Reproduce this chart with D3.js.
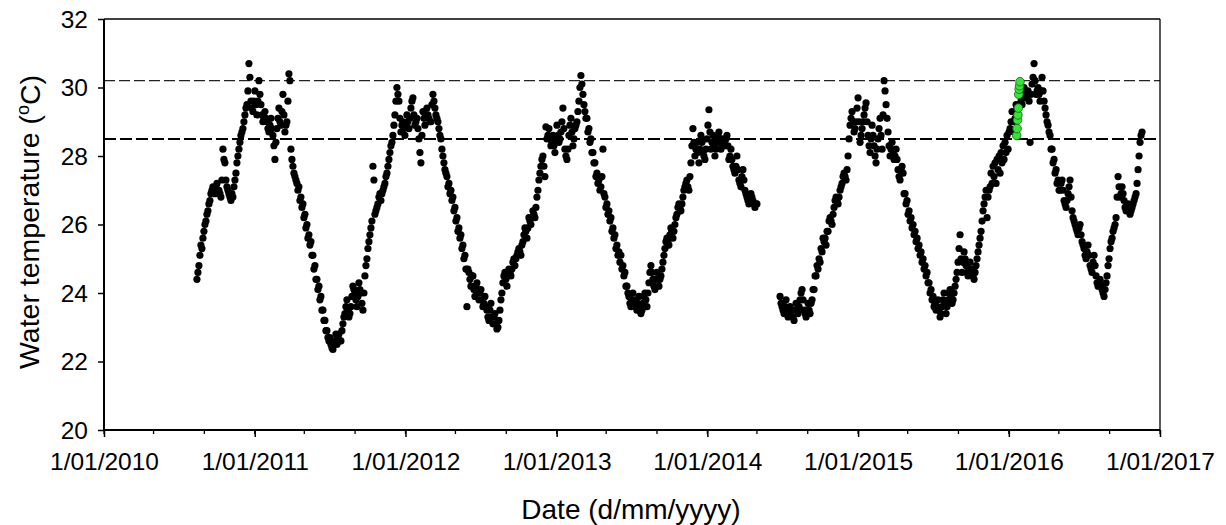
<!DOCTYPE html>
<html><head><meta charset="utf-8">
<script src="https://cdn.jsdelivr.net/npm/d3@7"></script>
<style>
body{margin:0;background:#fff}
text{font-family:Arial,"Liberation Sans",sans-serif;fill:#000}
</style>
</head><body>
<svg id="chart" width="1226" height="525"></svg>
<script>
// ---------- data ----------
const xDomainDates = ["2010-01-01", "2017-01-01"];
const yDomain = [20, 32];
const yTickValues = [20, 22, 24, 26, 28, 30, 32];
const thresholdUpper = 30.2;
const thresholdLower = 28.5;
const sampleStepDays = 2.4214;   // logger readings

const seg1Start = "2010-08-14";
const seg1Values = [
24.4,24.6,24.8,25.1,25.4,25.3,25.6,25.8,26.0,26.1,
26.3,26.4,26.6,26.7,26.9,27.0,27.1,27.0,26.9,27.1,
27.2,27.0,27.0,26.9,26.8,27.3,28.2,27.9,27.8,27.3,
27.1,27.0,26.9,26.8,26.7,26.9,26.8,27.1,27.3,27.5,
27.8,28.0,28.2,28.4,28.6,28.7,28.8,29.0,29.2,29.4,
29.5,29.9,30.7,30.3,29.6,29.4,29.3,29.6,29.9,29.5,
29.2,29.6,30.2,29.8,29.5,29.2,29.0,29.1,29.3,29.1,
29.0,28.8,28.7,28.9,29.1,28.8,28.6,28.3,27.9,28.4,
28.8,29.1,29.4,29.0,28.9,29.3,29.8,29.2,28.7,28.9,
29.0,29.6,30.4,30.2,28.2,27.9,27.7,27.5,27.4,27.3,
27.2,27.0,27.1,26.7,26.8,26.5,26.6,26.2,26.3,25.9,
26.0,25.6,25.7,25.4,25.5,25.1,25.1,24.7,24.8,24.4,
24.4,24.1,24.2,23.8,23.9,23.5,23.5,23.2,23.2,22.9,
22.9,22.7,22.6,22.7,22.5,22.4,22.35,22.5,22.6,22.8,
22.5,22.7,22.8,22.6,22.6,22.9,23.1,23.3,23.4,23.6,
23.8,23.5,23.3,23.4,23.6,23.9,24.2,24.1,24.0,23.8,
23.6,23.9,24.3,24.1,24.0,23.7,23.5,24.0,24.5,24.8,
25.0,25.3,25.5,25.7,25.9,26.1,27.7,27.3,26.3,26.4,
26.5,26.6,26.8,26.9,26.7,26.9,27.0,27.1,27.2,27.4,
27.5,27.7,27.9,28.1,28.3,28.4,28.6,28.9,29.2,29.6,
30.0,29.8,29.6,29.1,28.7,28.9,29.0,28.8,28.6,28.9,
29.2,29.0,28.8,29.1,29.4,29.6,29.7,29.2,28.9,29.0,
29.1,28.8,28.5,28.1,27.8,28.6,29.3,29.1,28.9,29.2,
29.4,29.2,29.1,29.0,29.0,29.5,29.8,29.6,29.4,29.2,
29.1,29.0,28.8,28.6,28.5,28.2,28.0,27.8,27.6,27.5,
27.4,27.1,27.2,26.9,27.0,26.7,26.8,26.4,26.5,26.1,
26.2,25.8,25.9,25.6,25.7,25.3,25.4,25.0,25.1,24.7,
23.6,24.7,24.6,24.4,24.2,24.5,24.5,24.1,23.9,24.2,
24.3,24.0,23.8,24.0,24.1,23.8,23.6,23.7,23.9,23.6,
23.5,23.3,23.2,23.5,23.7,23.3,23.1,23.3,23.4,23.1,
22.95,23.0,23.2,23.5,23.8,24.0,24.3,24.5,24.6,24.4,
24.2,24.5,24.7,24.6,24.5,24.7,24.9,25.0,24.8,25.0,
25.1,25.2,25.3,25.2,25.1,25.4,25.5,25.7,25.9,25.8,
25.6,25.9,26.2,26.1,26.0,26.2,26.4,26.3,26.2,26.5,
26.8,27.0,27.3,27.5,27.7,27.9,28.0,27.7,27.4,28.85,
28.5,28.6,28.8,28.5,28.3,28.4,28.6,28.3,28.1,28.5,
28.9,28.6,28.4,28.5,28.7,29.0,29.4,28.8,28.2,28.0,
27.9,28.2,28.6,28.9,29.1,28.7,28.3,28.5,28.8,28.9,
29.0,29.3,29.6,30.0,30.35,30.1,29.8,29.5,29.3,29.1,
29.1,28.7,28.8,28.4,28.5,28.1,28.1,27.8,27.8,27.4,
27.5,27.2,27.3,27.0,27.1,27.4,28.2,26.9,26.8,26.5,
26.6,26.3,26.4,26.1,26.2,25.8,25.9,25.6,25.7,25.3,
25.4,25.1,25.2,24.9,25.1,24.7,24.8,24.5,24.6,24.2,
24.2,24.0,23.9,23.7,23.6,23.8,24.0,23.8,23.7,23.6,
23.5,23.7,23.9,23.6,23.4,23.5,23.7,23.9,24.0,23.8,
23.6,24.0,24.3,24.6,24.8,24.6,24.4,24.2,24.1,24.4,
24.6,24.4,24.2,24.4,24.5,24.7,24.9,25.1,25.3,25.5,
25.6,25.5,25.4,25.7,25.9,25.8,25.6,25.8,26.0,26.2,
26.3,26.5,26.6,26.5,26.4,26.6,26.8,27.0,27.1,27.2,
27.3,27.1,27.0,27.4,27.8,28.3,28.8,28.4,28.0,28.2,
28.4,28.1,27.8,28.2,28.6,28.4,28.1,28.0,27.9,28.2,
28.5,28.9,29.35,28.7,28.2,28.4,28.6,28.3,28.0,28.2,
28.4,28.6,28.7,28.5,28.2,28.3,28.5,28.4,28.3,28.5,
28.6,28.3,27.9,28.0,28.2,27.9,27.7,27.6,27.5,27.7,
28.0,27.6,27.3,27.2,27.1,27.4,27.6,27.3,27.0,26.9,
26.8,26.7,26.6,26.8,26.9,26.8,26.7,26.6,26.5,26.6,
26.6
];

const seg2Start = "2014-06-26";
const seg2Values = [
23.9,23.7,23.6,23.5,23.4,23.6,23.8,23.5,23.3,23.4,
23.6,23.5,23.5,23.3,23.2,23.5,23.7,23.5,23.4,23.6,
23.8,24.0,24.1,23.8,23.5,23.4,23.3,23.5,23.7,23.5,
23.4,23.7,23.8,24.1,24.1,24.5,24.5,24.8,24.7,25.0,
24.9,25.3,25.2,25.6,25.5,25.6,25.4,25.8,25.8,26.1,
26.2,26.1,26.0,26.3,26.5,26.7,26.8,26.7,26.6,26.8,
27.0,27.1,27.2,27.4,27.5,27.4,27.3,27.6,28.0,28.5,
28.9,29.1,29.3,29.0,28.7,28.8,29.0,29.4,29.7,29.0,
28.4,28.6,28.8,29.0,29.2,29.4,29.55,29.0,28.6,28.3,
28.1,28.5,28.9,28.6,28.3,28.0,27.8,28.2,28.5,28.8,
29.1,28.6,28.2,29.2,30.2,29.9,29.5,29.1,28.7,28.3,
28.0,28.2,28.4,28.1,27.9,28.0,28.2,27.9,27.6,27.4,
27.3,27.6,27.7,27.5,26.9,26.9,26.6,26.7,26.3,26.4,
26.1,26.2,25.9,26.0,25.7,25.8,25.5,25.6,25.3,25.4,
25.1,25.2,24.9,25.0,24.7,24.8,24.5,24.6,24.3,24.3,
24.0,24.1,23.8,23.9,23.6,23.7,23.5,23.6,23.8,23.5,
23.3,23.4,23.6,23.8,24.0,23.7,23.4,23.6,23.8,24.0,
24.1,23.9,23.7,23.8,24.0,24.2,24.4,24.6,24.9,25.3,
25.7,25.0,24.6,24.9,25.2,25.0,24.8,24.6,24.5,24.7,
24.9,24.7,24.6,24.5,24.4,24.6,24.8,25.0,25.2,25.4,
25.6,25.8,26.1,26.4,26.6,26.8,27.0,26.2,26.8,27.0,
27.1,27.5,27.2,27.7,27.4,27.8,27.2,27.9,27.6,28.0,
27.5,28.1,27.8,28.3,27.9,28.4,28.1,28.6,28.2,28.7,
28.8,29.0,29.3,29.0,28.7,29.1,29.5,29.4,29.2,29.5,
29.8,29.6,29.5,29.8,30.0,29.8,29.7,29.8,29.9,29.6,
28.4,29.8,30.1,30.3,30.7,30.2,29.8,29.9,30.0,29.8,
29.6,29.9,30.3,29.9,29.6,29.4,29.2,29.0,28.9,28.7,
28.6,28.2,28.2,27.8,27.9,27.5,27.6,27.2,27.3,27.0,
27.0,27.2,27.3,27.0,26.7,26.6,26.5,26.7,26.9,27.1,
27.3,26.8,26.4,26.2,26.1,26.0,25.9,25.8,25.7,25.9,
26.0,25.7,25.5,25.4,25.3,25.1,25.0,25.2,25.4,25.1,
24.8,24.7,24.6,24.9,25.1,24.8,24.5,24.3,24.2,24.3,
24.4,24.2,24.1,24.0,23.9,24.1,24.3,24.5,24.8,25.0,
25.3,25.5,25.6,25.8,25.9,26.0,26.2,26.8,27.4,27.1,
26.8,26.9,27.1,26.9,26.7,26.5,26.4,26.5,26.6,26.4,
26.3,26.4,26.5,26.6,26.7,26.8,26.9,27.2,27.6,28.0,
28.4,28.6,28.7
];

const greenDates = ["2016-01-20","2016-01-21","2016-01-22","2016-01-23","2016-01-24","2016-01-25","2016-01-26","2016-01-27","2016-01-28"];
const greenValues = [28.6, 28.8, 29.05, 29.2, 29.4, 29.8, 29.95, 30.05, 30.17];

// ---------- layout ----------
const mLeft = 104, mRight = 1160, mTop = 19, mBottom = 430;
const parse = d3.timeParse("%Y-%m-%d");
const svg = d3.select("#chart");

const x = d3.scaleTime().domain(xDomainDates.map(parse)).range([mLeft, mRight]);
const y = d3.scaleLinear().domain(yDomain).range([mBottom, mTop]);

function buildSeries(start, values) {
  const s = parse(start).getTime();
  return values.map((v, i) => ({ date: new Date(s + i * sampleStepDays * 86400000), value: v }));
}
const blackPts = buildSeries(seg1Start, seg1Values).concat(buildSeries(seg2Start, seg2Values));
const greenPts = greenDates.map((d, i) => ({ date: parse(d), value: greenValues[i] }));

// threshold lines
svg.append("line")
  .attr("x1", mLeft).attr("x2", mRight)
  .attr("y1", y(thresholdUpper)).attr("y2", y(thresholdUpper))
  .attr("stroke", "#222").attr("stroke-width", 1.1).attr("stroke-dasharray", "11,4");
svg.append("line")
  .attr("x1", mLeft).attr("x2", mRight)
  .attr("y1", y(thresholdLower)).attr("y2", y(thresholdLower))
  .attr("stroke", "#000").attr("stroke-width", 2).attr("stroke-dasharray", "12,4");

// frame top & right
svg.append("line").attr("x1", mLeft).attr("x2", mRight).attr("y1", mTop).attr("y2", mTop)
  .attr("stroke", "#000").attr("stroke-width", 1.3);
svg.append("line").attr("x1", mRight).attr("x2", mRight).attr("y1", mTop).attr("y2", mBottom)
  .attr("stroke", "#000").attr("stroke-width", 1.3);

// points
svg.append("g").selectAll("circle").data(blackPts).join("circle")
  .attr("cx", d => x(d.date)).attr("cy", d => y(d.value)).attr("r", 3.6)
  .attr("fill", "#000");
svg.append("g").selectAll("circle").data(greenPts).join("circle")
  .attr("cx", d => x(d.date)).attr("cy", d => y(d.value)).attr("r", 4.3)
  .attr("fill", "#33e633").attr("stroke", "#1a5e1a").attr("stroke-width", 0.8);

// y axis
const yAxis = d3.axisLeft(y).tickValues(yTickValues).tickSize(6).tickPadding(10).tickFormat(d3.format("d"));
const gy = svg.append("g").attr("transform", `translate(${mLeft},0)`).call(yAxis);
gy.select(".domain").attr("stroke-width", 2).attr("d", `M0,${mTop}V${mBottom}`);
gy.selectAll(".tick line").attr("stroke-width", 1.5);
gy.selectAll(".tick text").style("font-size", "24.5px").attr("dy", "0.34em").style("font-family", "Arial, 'Liberation Sans', sans-serif");

// x axis minor ticks
const minor = x.ticks(d3.timeMonth.every(4));
svg.append("g").selectAll("line").data(minor).join("line")
  .attr("x1", d => x(d)).attr("x2", d => x(d))
  .attr("y1", mBottom).attr("y2", mBottom + 4)
  .attr("stroke", "#000").attr("stroke-width", 1.3);

const xAxis = d3.axisBottom(x).ticks(d3.timeYear.every(1)).tickSize(7).tickPadding(16)
  .tickFormat(d3.timeFormat("%-d/%m/%Y"));
const gx = svg.append("g").attr("transform", `translate(0,${mBottom})`).call(xAxis);
gx.select(".domain").attr("stroke-width", 2).attr("d", `M${mLeft},0H${mRight}`);
gx.selectAll(".tick line").attr("stroke-width", 1.5);
gx.selectAll(".tick text").style("font-size", "24.5px").style("font-family", "Arial, 'Liberation Sans', sans-serif");

// axis titles
svg.append("text")
  .attr("x", 631).attr("y", 519)
  .attr("text-anchor", "middle").style("font-size", "28px")
  .text("Date (d/mm/yyyy)");

const yt = svg.append("text")
  .attr("transform", `translate(39,222) rotate(-90)`)
  .attr("text-anchor", "middle").style("font-size", "28.5px");
yt.append("tspan").text("Water temperature (");
yt.append("tspan").text("o").style("font-size", "18px").attr("dy", "-0.55em");
yt.append("tspan").text("C)").attr("dy", "0.38em");
</script>
</body></html>
